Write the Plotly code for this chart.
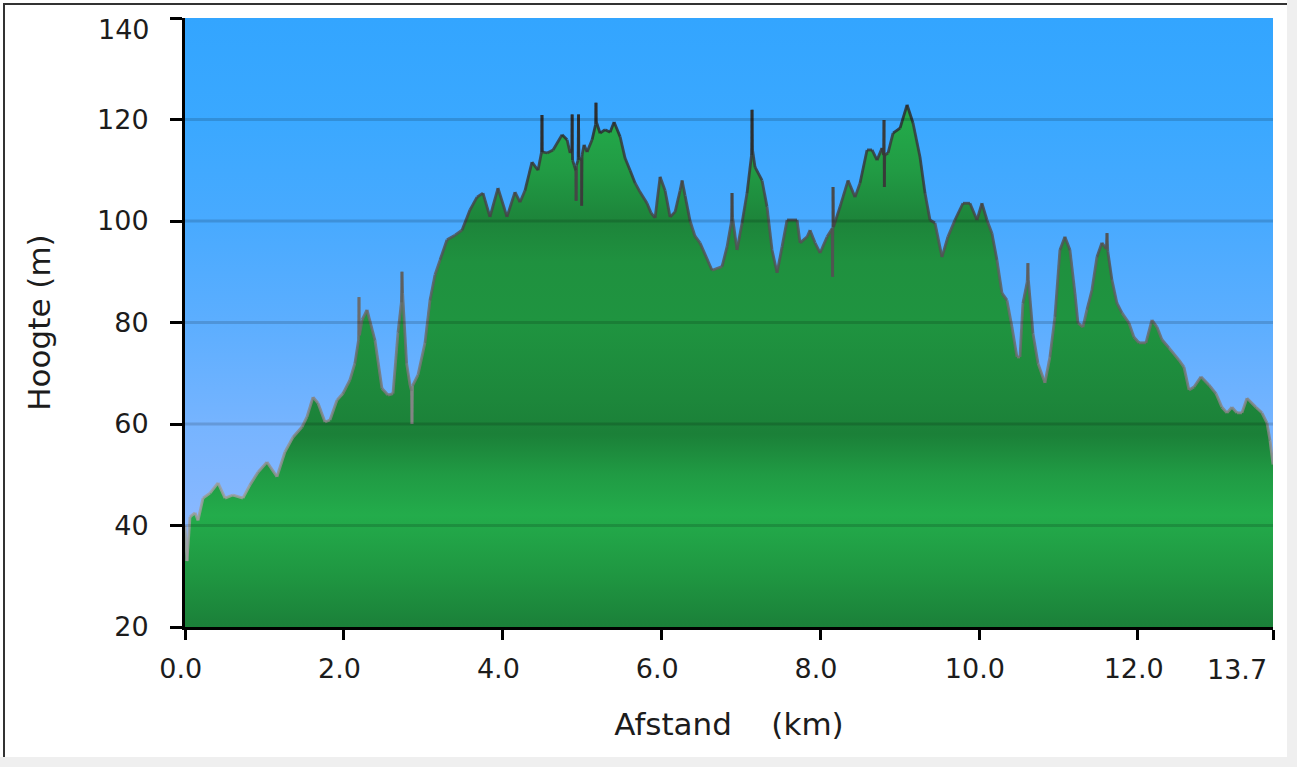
import plotly.graph_objects as go

distance_km = [
    0.000, 0.025, 0.063, 0.126, 0.164, 0.227, 0.315, 0.416, 0.504, 0.604,
    0.730, 0.818, 0.919, 1.032, 1.158, 1.259, 1.360, 1.473, 1.536, 1.612,
    1.675, 1.763, 1.826, 1.914, 1.989, 2.077, 2.140, 2.185, 2.191, 2.197,
    2.230, 2.292, 2.392, 2.480, 2.556, 2.619, 2.682, 2.725, 2.732, 2.740,
    2.790, 2.833, 2.852, 2.858, 2.865, 2.934, 3.022, 3.085, 3.148, 3.211,
    3.299, 3.400, 3.488, 3.589, 3.677, 3.752, 3.840, 3.941, 4.054, 4.155,
    4.218, 4.281, 4.369, 4.445, 4.490, 4.495, 4.500, 4.560, 4.635, 4.748,
    4.811, 4.849, 4.870, 4.875, 4.880, 4.900, 4.920, 4.925, 4.930, 4.950,
    4.955, 4.960, 4.990, 4.995, 5.000, 5.025, 5.063, 5.126, 5.170, 5.175,
    5.180, 5.227, 5.290, 5.353, 5.403, 5.479, 5.541, 5.604, 5.667, 5.730,
    5.818, 5.868, 5.919, 5.982, 6.045, 6.108, 6.171, 6.234, 6.260, 6.297,
    6.360, 6.422, 6.485, 6.636, 6.762, 6.825, 6.882, 6.888, 6.894, 6.951,
    7.014, 7.077, 7.134, 7.140, 7.146, 7.178, 7.266, 7.329, 7.392, 7.455,
    7.518, 7.581, 7.707, 7.745, 7.833, 7.871, 7.934, 7.997, 8.085, 8.150,
    8.155, 8.160, 8.165, 8.248, 8.349, 8.437, 8.500, 8.588, 8.651, 8.714,
    8.777, 8.797, 8.802, 8.806, 8.811, 8.853, 8.916, 9.004, 9.092, 9.167,
    9.255, 9.318, 9.381, 9.444, 9.532, 9.607, 9.695, 9.796, 9.884, 9.972,
    10.035, 10.098, 10.161, 10.224, 10.287, 10.350, 10.413, 10.476, 10.514, 10.551,
    10.605, 10.614, 10.620, 10.677, 10.740, 10.828, 10.891, 10.954, 11.017, 11.080,
    11.143, 11.206, 11.244, 11.307, 11.357, 11.420, 11.483, 11.546, 11.600, 11.610,
    11.620, 11.672, 11.735, 11.798, 11.886, 11.949, 12.012, 12.100, 12.176, 12.239,
    12.302, 12.390, 12.516, 12.579, 12.642, 12.705, 12.793, 12.893, 12.982, 13.057,
    13.120, 13.183, 13.246, 13.309, 13.372, 13.485, 13.561, 13.624, 13.662, 13.700,
]
elevation_m = [
    40.0, 33.0, 41.7, 42.5, 41.0, 45.4, 46.4, 48.4, 45.4, 46.0,
    45.4, 48.0, 50.5, 52.5, 49.6, 54.5, 57.4, 59.4, 61.4, 65.3,
    64.1, 60.4, 60.8, 64.7, 66.0, 68.7, 72.0, 76.5, 85.0, 77.5,
    80.5, 82.5, 76.5, 67.0, 65.7, 66.0, 78.0, 84.0, 90.0, 85.8,
    72.0, 67.7, 66.5, 60.0, 67.5, 69.7, 76.0, 84.4, 89.4, 92.3,
    96.3, 97.2, 98.2, 102.2, 104.7, 105.5, 100.8, 106.5, 100.8, 105.7,
    103.7, 106.0, 111.6, 110.0, 113.6, 120.9, 113.6, 113.4, 114.0, 117.0,
    116.0, 113.4, 114.0, 121.0, 112.0, 111.0, 110.0, 104.0, 111.0, 112.0,
    121.0, 112.6, 112.0, 103.0, 113.0, 115.0, 113.6, 116.0, 119.0, 123.3,
    119.5, 117.3, 118.0, 117.5, 119.5, 116.6, 112.4, 110.0, 107.5, 105.7,
    103.5, 101.6, 100.6, 108.7, 106.0, 100.8, 101.8, 106.0, 108.0, 105.0,
    100.0, 97.0, 95.7, 90.3, 91.0, 94.9, 100.0, 105.5, 100.8, 94.3,
    99.6, 105.5, 113.0, 121.9, 114.0, 110.6, 108.0, 102.8, 94.3, 89.8,
    94.9, 100.2, 100.2, 95.7, 96.9, 98.2, 95.7, 93.7, 96.9, 98.5,
    89.0, 106.7, 98.8, 102.8, 108.0, 104.7, 107.5, 114.0, 114.0, 112.0,
    114.4, 113.0, 119.9, 106.7, 113.0, 113.4, 117.3, 118.3, 122.9, 119.3,
    112.6, 105.5, 100.2, 99.6, 92.9, 96.9, 100.2, 103.5, 103.5, 100.2,
    103.5, 100.2, 97.6, 92.3, 85.8, 84.4, 79.1, 73.2, 73.2, 83.8,
    88.0, 91.7, 88.4, 77.9, 72.0, 68.1, 73.2, 81.1, 94.3, 96.9,
    94.3, 85.8, 79.9, 79.1, 82.5, 86.4, 92.9, 95.7, 94.5, 97.6,
    94.0, 88.4, 83.8, 81.9, 79.9, 77.1, 76.0, 76.0, 80.5, 79.1,
    76.6, 75.0, 72.6, 71.2, 66.7, 67.3, 69.3, 67.7, 66.0, 63.3,
    62.2, 63.3, 62.2, 62.2, 65.1, 63.3, 62.2, 60.2, 56.8, 52.0,
]

x_tick_vals = [0, 2, 4, 6, 8, 10, 12, 13.7]
x_tick_text = ["0.0", "2.0", "4.0", "6.0", "8.0", "10.0", "12.0", "13.7"]
y_tick_vals = [20, 40, 60, 80, 100, 120, 140]
y_tick_text = ["20", "40", "60", "80", "100", "120", "140"]

X_MIN, X_MAX = 0, 13.7
Y_MIN, Y_MAX = 20, 140

FONT = "DejaVu Sans, Verdana, sans-serif"
FS_TICK = 27
FS_TITLE = 31
TEXT_COLOR = "#1c1c1c"
NBSP = "\u00a0"


def pos(v):
    return (v - Y_MIN) / (Y_MAX - Y_MIN)


sky_scale = [
    [pos(20), "rgb(150,188,255)"],
    [pos(40), "rgb(138,184,255)"],
    [pos(60), "rgb(118,180,255)"],
    [pos(80), "rgb(92,174,255)"],
    [pos(100), "rgb(72,170,255)"],
    [pos(120), "rgb(58,168,255)"],
    [pos(140), "rgb(51,165,255)"],
]
green_scale = [
    [pos(20), "rgb(27,128,57)"],
    [pos(30), "rgb(31,150,65)"],
    [pos(42), "rgb(35,172,75)"],
    [pos(50), "rgb(32,155,68)"],
    [pos(58), "rgb(27,128,56)"],
    [pos(65), "rgb(29,135,59)"],
    [pos(80), "rgb(31,148,64)"],
    [pos(92), "rgb(31,145,63)"],
    [pos(100), "rgb(29,132,58)"],
    [pos(110), "rgb(33,155,68)"],
    [pos(120), "rgb(35,170,74)"],
    [pos(140), "rgb(36,176,77)"],
]

fig = go.Figure()

# sky background (vertical gradient)
fig.add_trace(go.Scatter(
    x=[X_MIN, X_MAX], y=[Y_MAX, Y_MAX], mode="lines", line=dict(width=0),
    fill="tozeroy",
    fillgradient=dict(type="vertical", start=Y_MIN, stop=Y_MAX, colorscale=sky_scale),
    hoverinfo="skip", showlegend=False,
))

# terrain fill
fig.add_trace(go.Scatter(
    x=distance_km, y=elevation_m, mode="lines", line=dict(width=0),
    fill="tozeroy",
    fillgradient=dict(type="vertical", start=Y_MIN, stop=Y_MAX, colorscale=green_scale),
    hoverinfo="skip", showlegend=False,
))

# outline: colour darkens with height (segments grouped in bands)
N_BANDS = 10
bands = [([], []) for _ in range(N_BANDS)]
for i in range(len(distance_km) - 1):
    mid = (elevation_m[i] + elevation_m[i + 1]) / 2
    b = int((mid - 40) / (125 - 40) * N_BANDS)
    b = max(0, min(N_BANDS - 1, b))
    bands[b][0].extend([distance_km[i], distance_km[i + 1], None])
    bands[b][1].extend([elevation_m[i], elevation_m[i + 1], None])
for b, (bx, by) in enumerate(bands):
    if not bx:
        continue
    v = 40 + (b + 0.5) * (125 - 40) / N_BANDS
    g = int(max(45, min(160, 165 - (v - 40) * 1.5)))
    fig.add_trace(go.Scatter(
        x=bx, y=by, mode="lines",
        line=dict(color=f"rgba({g},{g},{g},0.85)", width=2.8),
        hoverinfo="skip", showlegend=False,
    ))

# gridlines drawn over the terrain
for v in y_tick_vals[1:-1]:
    fig.add_shape(type="line", xref="x", yref="y", x0=X_MIN, x1=X_MAX, y0=v, y1=v,
                  line=dict(color="rgba(0,0,0,0.15)", width=3), layer="above")

# page frame
px_w, px_h = 1088.0, 609.0
def fx(px):
    return (px - 185) / px_w
def fy(py):
    return (627 - py) / px_h

fig.add_shape(type="rect", xref="paper", yref="paper", x0=fx(1287), x1=fx(1300),
              y0=fy(770), y1=fy(-5), fillcolor="#efefef", line=dict(width=0), layer="above")
fig.add_shape(type="rect", xref="paper", yref="paper", x0=fx(-5), x1=fx(1300),
              y0=fy(770), y1=fy(757), fillcolor="#efefef", line=dict(width=0), layer="above")
fig.add_shape(type="line", xref="paper", yref="paper", x0=fx(3), x1=fx(1287),
              y0=fy(4), y1=fy(4), line=dict(color="#333333", width=2), layer="above")
fig.add_shape(type="line", xref="paper", yref="paper", x0=fx(4), x1=fx(4),
              y0=fy(4), y1=fy(757), line=dict(color="#333333", width=2), layer="above")

axis_common = dict(
    showline=True, linecolor="black", linewidth=3, mirror=False,
    ticks="outside", tickcolor="black", tickwidth=3,
    showgrid=False, zeroline=False, layer="above traces",
    tickfont=dict(family=FONT, size=FS_TICK, color=TEXT_COLOR),
)

# edge labels (last x, top y) sit inward of their ticks in the reference:
# they are drawn as annotations at the same axis values
x_tick_labels = [t + NBSP for t in x_tick_text[:-1]] + [""]
y_tick_labels = y_tick_text[:-1] + [""]

fig.add_annotation(x=x_tick_vals[-1], xref="x", y=0, yref="paper",
                   text=x_tick_text[-1], showarrow=False, xanchor="right", yanchor="top",
                   xshift=-4, yshift=-25,
                   font=dict(family=FONT, size=FS_TICK, color=TEXT_COLOR))
fig.add_annotation(x=0, xref="paper", y=y_tick_vals[-1], yref="y",
                   text=y_tick_text[-1], showarrow=False, xanchor="right", yanchor="middle",
                   xshift=-33, yshift=-11,
                   font=dict(family=FONT, size=FS_TICK, color=TEXT_COLOR))

fig.update_xaxes(
    range=[X_MIN, X_MAX], tickmode="array", tickvals=x_tick_vals, ticktext=x_tick_labels,
    ticklen=10, ticklabelstandoff=6,
    title=dict(text="Afstand" + NBSP * 3 + " (km)" + NBSP * 2,
               font=dict(family=FONT, size=FS_TITLE, color=TEXT_COLOR), standoff=30),
    **axis_common,
)
fig.update_yaxes(
    range=[Y_MIN, Y_MAX], tickmode="array", tickvals=y_tick_vals, ticktext=y_tick_labels,
    ticklen=12, ticklabelstandoff=16,
    title=dict(text="Hoogte (m)", font=dict(family=FONT, size=FS_TITLE, color=TEXT_COLOR), standoff=38),
    **axis_common,
)

fig.update_layout(
    width=1297, height=767,
    margin=dict(l=185, r=24, t=18, b=140, autoexpand=False),
    paper_bgcolor="white", plot_bgcolor="rgba(0,0,0,0)",
    showlegend=False,
    font=dict(family=FONT, size=FS_TICK, color=TEXT_COLOR),
)

fig.write_html("out.html", config={"displayModeBar": False},
               post_script="document.body.style.margin='0';")
